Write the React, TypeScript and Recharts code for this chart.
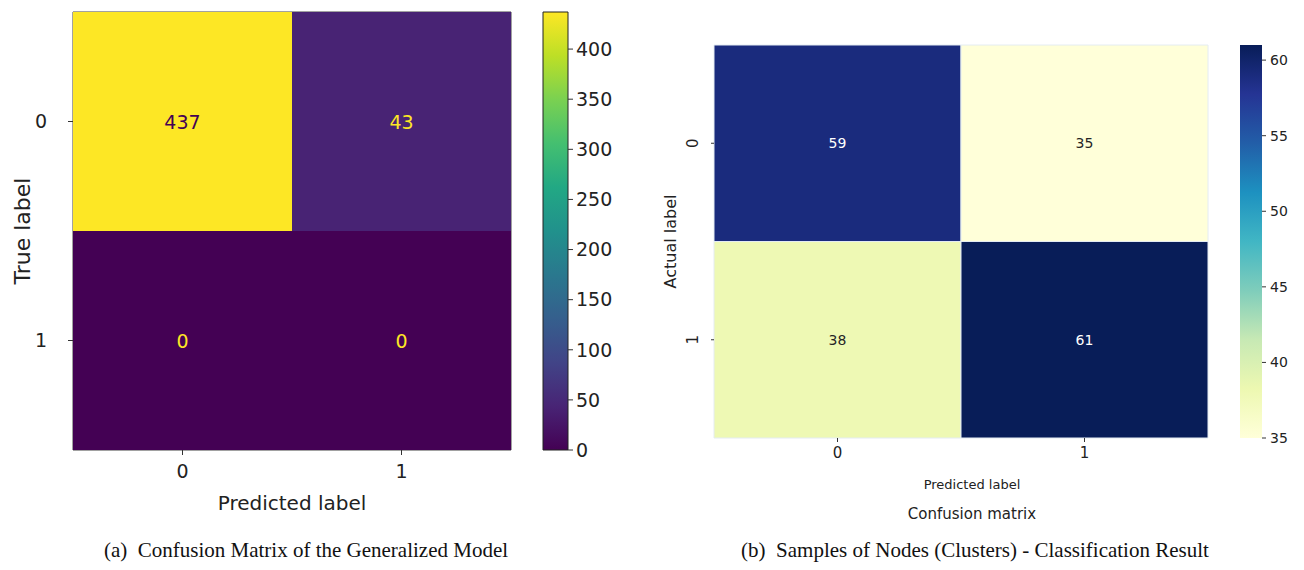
import React from "react";
import { BarChart, Bar, XAxis, YAxis, Cell, LabelList, Label, ReferenceArea } from "recharts";

// (a) generalized model
const genPredicted = ["0", "1"];
const genTrue = ["0", "1"];
const genRowTrue0 = [437, 43];
const genRowTrue1 = [0, 0];
const genScaleMin = 0;
const genScaleMax = 437;
const genTicks = [0, 50, 100, 150, 200, 250, 300, 350, 400];

// (b) samples of nodes
const nodePredicted = ["0", "1"];
const nodeActual = ["0", "1"];
const nodeRowActual0 = [59, 35];
const nodeRowActual1 = [38, 61];
const nodeScaleMin = 35;
const nodeScaleMax = 61;
const nodeTicks = [35, 40, 45, 50, 55, 60];

const VIRIDIS = ["#440154", "#482475", "#414487", "#355f8d", "#2a788e", "#21918c", "#22a884", "#44bf70", "#7ad151", "#bddf26", "#fde725"];
const YLGNBU = ["#ffffd9", "#edf8b1", "#c7e9b4", "#7fcdbb", "#41b6c4", "#1d91c0", "#225ea8", "#253494", "#081d58"];

const SANS = "'DejaVu Sans', sans-serif";

function hexToRgb(h: string) {
    return [parseInt(h.slice(1, 3), 16), parseInt(h.slice(3, 5), 16), parseInt(h.slice(5, 7), 16)];
}

function sample(stops: string[], t: number) {
    const c = Math.max(0, Math.min(1, t)) * (stops.length - 1);
    const i = Math.min(Math.floor(c), stops.length - 2);
    const f = c - i;
    const a = hexToRgb(stops[i]);
    const b = hexToRgb(stops[i + 1]);
    const m = a.map((v, k) => Math.round(v + (b[k] - v) * f));
    return `rgb(${m[0]},${m[1]},${m[2]})`;
}

function buildRows(pred: string[], row0: number[], row1: number[]) {
    return pred.map((p, i) => ({ pred: p, top: 1, bottom: 1, topVal: row0[i], bottomVal: row1[i] }));
}

const genData = buildRows(genPredicted, genRowTrue0, genRowTrue1);
const nodeData = buildRows(nodePredicted, nodeRowActual0, nodeRowActual1);

const genColor = (v: number) => sample(VIRIDIS, (v - genScaleMin) / (genScaleMax - genScaleMin));
const nodeColor = (v: number) => sample(YLGNBU, (v - nodeScaleMin) / (nodeScaleMax - nodeScaleMin));

function cellText(fontSize: number, pickFill: (v: number) => string) {
    return (props: any) => {
        const { x, y, width, height, value } = props;
        return (
            <text x={x + width / 2} y={y + height / 2} textAnchor="middle" dominantBaseline="central"
                fontFamily={SANS} fontSize={fontSize} fill={pickFill(value)}>
                {value}
            </text>
        );
    };
}

function Gradient({ id, stops }: { id: string; stops: string[] }) {
    return (
        <defs>
            <linearGradient id={id} x1="0" y1="1" x2="0" y2="0">
                {stops.map((s, i) => (
                    <stop key={i} offset={`${(i / (stops.length - 1)) * 100}%`} stopColor={s} />
                ))}
            </linearGradient>
        </defs>
    );
}

const RotatedTick = (props: any) => {
    const { x, y, payload, tickFormatter } = props;
    const label = tickFormatter ? tickFormatter(payload.value) : payload.value;
    const cx = x - 16;
    return (
        <text x={cx} y={y} transform={`rotate(-90 ${cx} ${y})`} textAnchor="middle" dominantBaseline="central"
            fontFamily={SANS} fontSize={15} fill="#222">
            {label}
        </text>
    );
};

const genTextFill = (v: number) => (v < (genScaleMin + genScaleMax) / 2 ? "#fde725" : "#440154");
const nodeTextFill = (v: number) => (v > 48 ? "#ffffff" : "#262626");

export default function App() {
    return (
        <div style={{ position: "absolute", left: 0, top: 0, width: 1304, height: 570, background: "#fff" }}>
            {/* (a) matrix */}
            <div style={{ position: "absolute", left: 0, top: 0 }}>
                <BarChart width={520} height={520} data={genData} margin={{ top: 12, right: 9, left: 13, bottom: 0 }}
                    barCategoryGap={0} barGap={0}>
                    <XAxis dataKey="pred" height={70} axisLine={false} tickSize={5} tickMargin={10}
                        tickLine={{ stroke: "#333" }} tick={{ fontFamily: SANS, fontSize: 19, fill: "#222" }}>
                        <Label content={(p: any) => (
                            <text x={p.viewBox.x + p.viewBox.width / 2} y={p.viewBox.y + 53} textAnchor="middle"
                                dominantBaseline="central" fontFamily={SANS} fontSize={20} fill="#222">Predicted label</text>
                        )} />
                    </XAxis>
                    <YAxis type="number" domain={[0, 2]} ticks={[0.5, 1.5]} width={60} axisLine={false}
                        tickSize={5} tickMargin={21} tickLine={{ stroke: "#333" }}
                        tickFormatter={(v: number) => (v > 1 ? genTrue[0] : genTrue[1])}
                        tick={{ fontFamily: SANS, fontSize: 19, fill: "#222" }}>
                        <Label content={(p: any) => {
                            const cx = p.viewBox.x + 9;
                            const cy = p.viewBox.y + p.viewBox.height / 2;
                            return (
                                <text x={cx} y={cy} transform={`rotate(-90 ${cx} ${cy})`} textAnchor="middle"
                                    dominantBaseline="central" fontFamily={SANS} fontSize={22} fill="#222">True label</text>
                            );
                        }} />
                    </YAxis>
                    <Bar dataKey="bottom" stackId="m" isAnimationActive={false}>
                        {genData.map((d, i) => <Cell key={i} fill={genColor(d.bottomVal)} />)}
                        <LabelList dataKey="bottomVal" content={cellText(19, genTextFill)} />
                    </Bar>
                    <Bar dataKey="top" stackId="m" isAnimationActive={false}>
                        {genData.map((d, i) => <Cell key={i} fill={genColor(d.topVal)} />)}
                        <LabelList dataKey="topVal" content={cellText(19, genTextFill)} />
                    </Bar>
                    <ReferenceArea x1="0" x2="1" y1={0} y2={2} fill="none" stroke="#444" strokeWidth={1} ifOverflow="visible" />
                </BarChart>
            </div>

            {/* (a) colorbar */}
            <div style={{ position: "absolute", left: 500, top: 0 }}>
                <BarChart width={130} height={470} data={[{ name: "cb", v: [genScaleMin, genScaleMax] }]}
                    margin={{ top: 12, right: 0, left: 43, bottom: 20 }} barCategoryGap={0}>
                    <Gradient id="viridisBar" stops={VIRIDIS} />
                    <XAxis dataKey="name" hide />
                    <YAxis orientation="right" type="number" domain={[genScaleMin, genScaleMax]} ticks={genTicks}
                        width={62} axisLine={false} tickSize={5} tickMargin={3} tickLine={{ stroke: "#333" }}
                        tick={{ fontFamily: SANS, fontSize: 19, fill: "#222", textAnchor: "start" }} />
                    <Bar dataKey="v" fill="url(#viridisBar)" stroke="#222" strokeWidth={1} isAnimationActive={false} />
                </BarChart>
            </div>

            {/* (b) matrix */}
            <div style={{ position: "absolute", left: 650, top: 0 }}>
                <BarChart width={570} height={530} data={nodeData} margin={{ top: 45, right: 12, left: 4, bottom: 0 }}
                    barCategoryGap={0} barGap={0}>
                    <XAxis dataKey="pred" height={92} axisLine={false} tickSize={4} tickMargin={5}
                        tickLine={{ stroke: "#333" }} tick={{ fontFamily: SANS, fontSize: 15, fill: "#222" }}>
                        <Label content={(p: any) => {
                            const cx = p.viewBox.x + p.viewBox.width / 2 + 11;
                            return (
                                <g>
                                    <text x={cx} y={p.viewBox.y + 46} textAnchor="middle" dominantBaseline="central"
                                        fontFamily={SANS} fontSize={13} fill="#222">Predicted label</text>
                                    <text x={cx} y={p.viewBox.y + 76} textAnchor="middle" dominantBaseline="central"
                                        fontFamily={SANS} fontSize={15} fill="#222">Confusion matrix</text>
                                </g>
                            );
                        }} />
                    </XAxis>
                    <YAxis type="number" domain={[0, 2]} ticks={[0.5, 1.5]} width={60} axisLine={false}
                        tickSize={3} tickMargin={2} tickLine={{ stroke: "#333" }}
                        tickFormatter={(v: number) => (v > 1 ? nodeActual[0] : nodeActual[1])}
                        tick={<RotatedTick />}>
                        <Label content={(p: any) => {
                            const cx = p.viewBox.x + 16;
                            const cy = p.viewBox.y + p.viewBox.height / 2;
                            return (
                                <text x={cx} y={cy} transform={`rotate(-90 ${cx} ${cy})`} textAnchor="middle"
                                    dominantBaseline="central" fontFamily={SANS} fontSize={16} fill="#222">Actual label</text>
                            );
                        }} />
                    </YAxis>
                    <Bar dataKey="bottom" stackId="m" isAnimationActive={false}>
                        {nodeData.map((d, i) => <Cell key={i} fill={nodeColor(d.bottomVal)} stroke="#e4ecf2" strokeWidth={1} />)}
                        <LabelList dataKey="bottomVal" content={cellText(14, nodeTextFill)} />
                    </Bar>
                    <Bar dataKey="top" stackId="m" isAnimationActive={false}>
                        {nodeData.map((d, i) => <Cell key={i} fill={nodeColor(d.topVal)} stroke="#e4ecf2" strokeWidth={1} />)}
                        <LabelList dataKey="topVal" content={cellText(14, nodeTextFill)} />
                    </Bar>
                </BarChart>
            </div>

            {/* (b) colorbar */}
            <div style={{ position: "absolute", left: 1200, top: 0 }}>
                <BarChart width={104} height={460} data={[{ name: "cb", v: [nodeScaleMin, nodeScaleMax] }]}
                    margin={{ top: 45, right: 0, left: 40, bottom: 22 }} barCategoryGap={0}>
                    <Gradient id="ylgnbuBar" stops={YLGNBU} />
                    <XAxis dataKey="name" hide />
                    <YAxis orientation="right" type="number" domain={[nodeScaleMin, nodeScaleMax]} ticks={nodeTicks}
                        width={42} axisLine={false} tickSize={4} tickMargin={4} tickLine={{ stroke: "#333" }}
                        tick={{ fontFamily: SANS, fontSize: 14, fill: "#222", textAnchor: "start" }} />
                    <Bar dataKey="v" fill="url(#ylgnbuBar)" isAnimationActive={false} />
                </BarChart>
            </div>

            {/* captions */}
            <div style={{ position: "absolute", left: 6, top: 538, width: 600, textAlign: "center",
                fontFamily: "'Liberation Serif', serif", fontSize: 21, color: "#111", whiteSpace: "nowrap" }}>
                (a)&nbsp; Confusion Matrix of the Generalized Model
            </div>
            <div style={{ position: "absolute", left: 675, top: 538, width: 600, textAlign: "center",
                fontFamily: "'Liberation Serif', serif", fontSize: 21, color: "#111", whiteSpace: "nowrap" }}>
                (b)&nbsp; Samples of Nodes (Clusters) - Classification Result
            </div>
        </div>
    );
}
